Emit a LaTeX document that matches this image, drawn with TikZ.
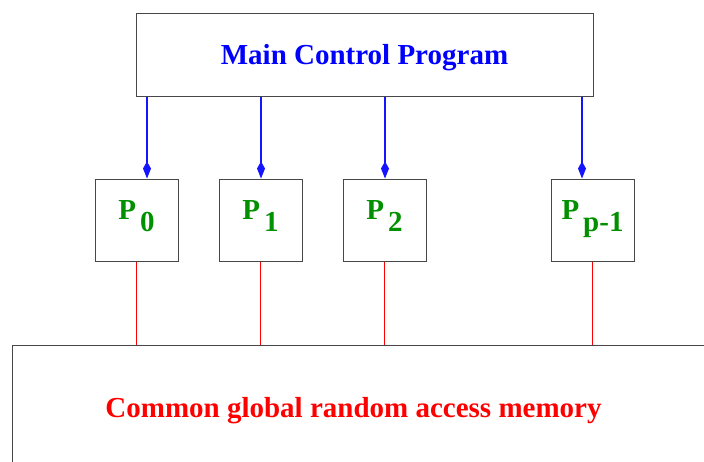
\documentclass[tikz,border=0pt]{standalone}
\usepackage{fontspec}
\setmainfont{Liberation Serif}
\usetikzlibrary{arrows.meta,calc}
\definecolor{procgreen}{RGB}{0,144,0}
\definecolor{ctrlblue}{RGB}{20,20,255}
\tikzset{
  box/.style={draw=black!72, line width=1pt, rectangle, inner sep=0pt},
  procbox/.style={box, minimum width=83pt, minimum height=82pt,
    text=procgreen, text height=9pt, text depth=11pt,
    font=\fontsize{29}{34}\selectfont\bfseries},
  ctrl/.style={draw=ctrlblue, line width=1.05pt,
    -{Kite[length=17pt,width=8pt,inset=7pt]}},
  bus/.style={draw=red, line width=0.9pt}
}
\newcommand{\procname}[1]{P\hspace{4pt}\raisebox{-12pt}{#1}}
\begin{document}
\begin{tikzpicture}[x=1pt,y=-1pt]
\useasboundingbox (0,0) rectangle (704,461);
\clip (0,0) rectangle (704,461);

% control program
\node[box, minimum width=457pt, minimum height=83pt, text=blue,
      text height=19pt, text depth=0pt,
      font=\fontsize{29}{34}\selectfont\bfseries]
  (main) at (364.5,54.5) {Main Control Program};

% processors
\node[procbox] (p0) at (136.5,220) {\procname{0}};
\node[procbox] (p1) at (260.5,220) {\procname{1}};
\node[procbox] (p2) at (384.5,220) {\procname{2}};
\node[procbox] (pp) at (592.5,220) {\procname{p-1}};

% shared memory
\node[box, minimum width=718pt, minimum height=145pt] (mem) at (371,417.5) {};
\node[anchor=base, text=red, font=\fontsize{29}{34}\selectfont\bfseries]
  (memlabel) at (353.5,417) {Common global random access memory};

% control connections
\coordinate (t0) at ([xshift=10.5pt]p0.north);
\coordinate (t1) at ([xshift=0.5pt]p1.north);
\coordinate (t2) at ([xshift=0.5pt]p2.north);
\coordinate (tp) at ([xshift=-10.5pt]pp.north);
\draw[ctrl] (main.south -| t0) -- (t0);
\draw[ctrl] (main.south -| t1) -- (t1);
\draw[ctrl] (main.south -| t2) -- (t2);
\draw[ctrl] (main.south -| tp) -- (tp);

% memory connections
\draw[bus] (p0.south) -- (mem.north -| p0.south);
\draw[bus] (p1.south) -- (mem.north -| p1.south);
\draw[bus] (p2.south) -- (mem.north -| p2.south);
\draw[bus] (pp.south) -- (mem.north -| pp.south);
\end{tikzpicture}
\end{document}
